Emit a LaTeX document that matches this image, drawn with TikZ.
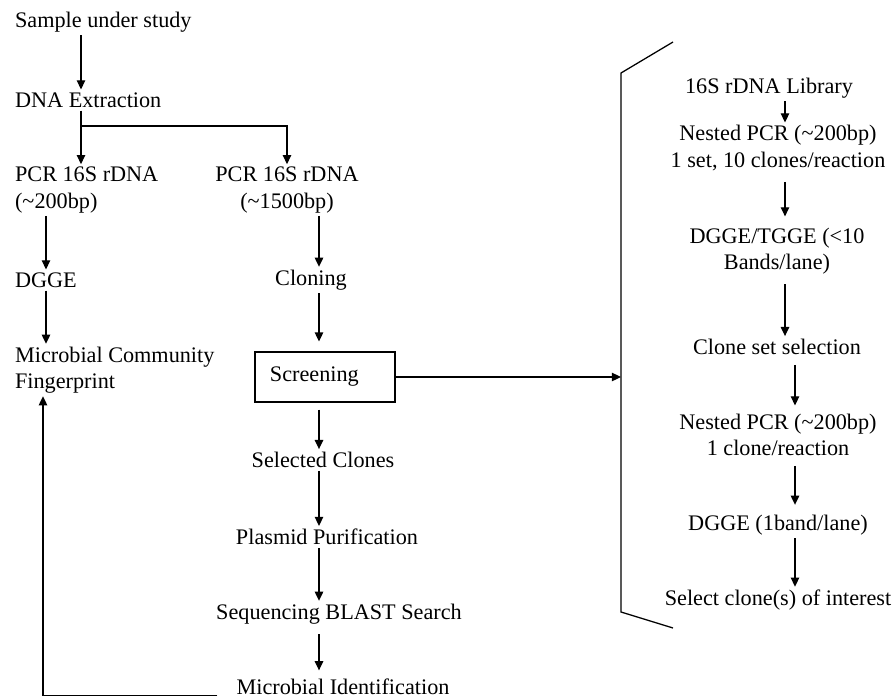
\documentclass[tikz,border=0pt]{standalone}
\usepackage{fontspec}
\setmainfont{Liberation Serif}
\usetikzlibrary{arrows.meta, positioning}

\begin{document}
\begin{tikzpicture}[x=0.025cm, y=-0.025cm,
    lbl/.style={font=\fontsize{15.8}{18.5}\selectfont, inner sep=2pt},
    arr/.style={-{Triangle[length=6.5pt, width=6pt]}, line width=0.9pt},
    boxed/.style={lbl, draw, line width=0.9pt, minimum height=1.25cm,
                  text width=2.75cm, align=left, inner xsep=10.7pt}]
  \useasboundingbox (0,0) rectangle (896,699);

  % Columns for the arrows
  \coordinate (cTop) at (81,0);
  \coordinate (cL) at (46,0);
  \coordinate (cF) at (43,0);
  \coordinate (cR) at (319,0);
  \coordinate (cS1) at (785,0);
  \coordinate (cS2) at (795,0);
  \coordinate (split) at (81,126);

  % Left branch
  \node[lbl, anchor=west] (sample) at (12,22) {Sample under study};
  \node[lbl, anchor=west] (dna) at (12,100) {DNA Extraction};
  \node[lbl, anchor=west, align=left] (pcrA) at (12,190) {PCR 16S rDNA\\(\textasciitilde200bp)};
  \node[lbl, anchor=west] (dgge) at (12,280) {DGGE};
  \node[lbl, anchor=west, align=left] (finger) at (12,370) {Microbial Community\\Fingerprint};

  % Middle branch
  \node[lbl, align=center] (pcrB) at (287,190) {PCR 16S rDNA\\(\textasciitilde1500bp)};
  \node[lbl] (cloning) at (311,280) {Cloning};
  \node[boxed] (screen) at (325,377) {Screening};
  \node[lbl] (selected) at (323,460) {Selected Clones};
  \node[lbl] (plasmid) at (327,537) {Plasmid Purification};
  \node[lbl] (blast) at (339,614) {Sequencing BLAST Search};
  \node[lbl] (ident) at (343,687) {Microbial Identification};

  % Screening detail
  \node[lbl] (lib) at (769,88) {16S rDNA Library};
  \node[lbl, align=center] (nestA) at (778,148) {Nested PCR (\textasciitilde200bp)\\1 set, 10 clones/reaction};
  \node[lbl, align=center] (tgge) at (777,251) {DGGE/TGGE (<10\\Bands/lane)};
  \node[lbl] (cset) at (777,347) {Clone set selection};
  \node[lbl, align=center] (nestB) at (778,435) {Nested PCR (\textasciitilde200bp)\\1 clone/reaction};
  \node[lbl] (dggeB) at (778,525) {DGGE (1band/lane)};
  \node[lbl] (pick) at (778,600) {Select clone(s) of interest};

  % Bracket
  \coordinate (brTop) at (673,42);
  \coordinate (brA) at (621,73);
  \coordinate (brB) at (621,612);
  \coordinate (brBot) at (673,628);
  \draw[line width=0.9pt] (brTop) -- (brA) -- (brB) -- (brBot);

  % Arrows, left
  \draw[arr] (sample.south -| cTop) -- (dna.north -| cTop);
  \draw[line width=0.9pt] (dna.south -| cTop) -- (split);
  \draw[arr] (split) -- (pcrA.north -| cTop);
  \draw[arr] (split) -| (pcrB.north);
  \draw[arr] (pcrA.south -| cL) -- (dgge.north -| cL);
  \draw[arr] (dgge.south -| cL) -- (finger.north -| cL);

  % Arrows, middle
  \draw[arr] (pcrB.south -| cR) -- (cloning.north -| cR);
  \draw[arr, shorten >=7pt] (cloning.south -| cR) -- (screen.north -| cR);
  \draw[arr, shorten <=5pt] (screen.south -| cR) -- (selected.north -| cR);
  \draw[arr] (selected.south -| cR) -- (plasmid.north -| cR);
  \draw[arr] (plasmid.south -| cR) -- (blast.north -| cR);
  \draw[arr, shorten <=5pt, shorten >=4pt] (blast.south -| cR) -- (ident.north -| cR);
  \draw[arr] (screen.east) -- (screen.east -| brA);

  % Feedback
  \draw[arr] ([xshift=-4mm, yshift=-0.5pt]ident.base west) -| (finger.south -| cF);

  % Arrows, right
  \draw[arr] (lib.south -| cS1) -- (nestA.north -| cS1);
  \draw[arr, shorten <=6pt, shorten >=6pt] (nestA.south -| cS1) -- (tgge.north -| cS1);
  \draw[arr, shorten <=5pt] (tgge.south -| cS1) -- (cset.north -| cS1);
  \draw[arr, shorten <=5pt, shorten >=4pt] (cset.south -| cS2) -- (nestB.north -| cS2);
  \draw[arr, shorten <=5pt, shorten >=5pt] (nestB.south -| cS2) -- (dggeB.north -| cS2);
  \draw[arr] (dggeB.south -| cS2) -- (pick.north -| cS2);
\end{tikzpicture}
\end{document}
